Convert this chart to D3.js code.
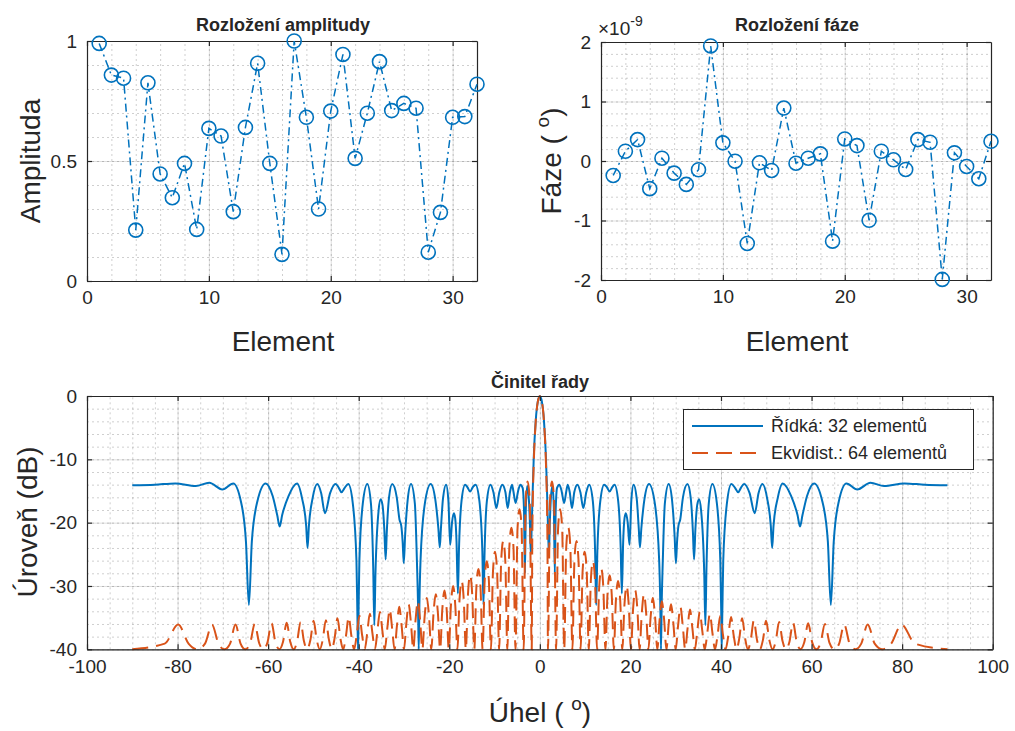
<!DOCTYPE html>
<html><head><meta charset="utf-8">
<script src="https://cdn.jsdelivr.net/npm/d3@7"></script>
<style>
body{margin:0;background:#fff}
text{font-family:"Liberation Sans",Arial,Helvetica,sans-serif;fill:#262626}
</style></head>
<body><svg id="c" width="1015" height="731"></svg>
<script>
// ---------------- DATA ----------------
const elementy = [1,2,3,4,5,6,7,8,9,10,11,12,13,14,15,16,17,18,19,20,21,22,23,24,25,26,27,28,29,30,31,32];
const amplituda = [0.99,0.858,0.845,0.212,0.826,0.446,0.347,0.49,0.215,0.636,0.604,0.289,0.64,0.907,0.49,0.111,
                   1.0,0.682,0.30,0.708,0.944,0.511,0.699,0.914,0.71,0.74,0.72,0.12,0.286,0.682,0.685,0.82];
// phase in units of 1e-9 degrees
const faze = [-0.243,0.164,0.36,-0.465,0.047,-0.204,-0.393,-0.147,1.933,0.305,-0.003,-1.386,-0.03,-0.159,0.89,-0.037,
              0.047,0.12,-1.347,0.371,0.259,-0.996,0.164,0.02,-0.142,0.36,0.315,-1.99,0.137,-0.092,-0.298,0.331];
const elemTicks = [0,10,20,30];
const ampTicks = [0,0.5,1];
const fazeTicks = [-2,-1,0,1,2];
const uhelTicks = [-100,-80,-60,-40,-20,0,20,40,60,80,100];
const urovenTicks = [-40,-30,-20,-10,0];

// Ridka: 32 elementu  [angle deg, level dB] (traced)
const ridka = [
[-90,-14.1],[-85,-14.0],[-80.5,-13.8],[-76.0,-14.2],[-73.0,-13.7],[-70.1,-14.75],[-67.7,-13.8],[-66.0,-16.7],[-64.9,-23],[-64.25,-33],[-63.6,-23],[-62.4,-16.7],
[-60.55,-13.8],[-59.0,-15.8],[-58.0,-18.8],[-57.45,-20.6],[-56.9,-18.8],[-55.5,-15.8],[-53.6,-13.8],[-52.5,-16.2],[-51.6,-20.5],[-51.3,-24],[-51.0,-20.5],[-50.2,-16.2],
[-49.15,-13.9],[-48.3,-15.3],[-47.45,-18.5],[-46.3,-15.3],[-45.1,-13.9],[-44.4,-14.5],[-43.8,-15.2],[-43.1,-14.5],[-42.3,-13.9],[-41.3,-17],[-40.5,-26],[-40.3,-34],
[-40.15,-40],[-40.05,-34],[-39.85,-26],[-39.1,-17],[-38.1,-13.9],[-37.3,-17],[-36.8,-27],[-36.55,-36.2],[-36.3,-28],[-35.6,-18],[-35.15,-16.3],[-34.75,-17.2],
[-34.35,-21],[-34.05,-25.8],[-33.8,-21.5],[-33.3,-16],[-32.6,-13.9],[-31.6,-16],[-31.0,-19.5],[-30.6,-20.5],[-30.3,-23],[-30.05,-26.4],[-29.75,-22],[-29.2,-16.5],
[-28.45,-13.9],[-27.6,-17],[-27.15,-26],[-26.9,-33],[-26.75,-40],[-26.6,-33],[-26.35,-26],[-25.4,-17],[-24.1,-13.9],[-23.1,-16.3],[-22.4,-21],[-22.1,-23.9],
[-21.85,-21],[-21.4,-16.3],[-20.7,-14.0],[-20.2,-16.5],[-19.8,-23.5],[-19.4,-20],[-19.0,-18.5],[-18.7,-19.3],[-18.4,-23],[-18.1,-31.2],[-17.85,-24],[-17.3,-16.6],
[-16.5,-14.0],[-16.0,-14.4],[-15.4,-15.1],[-14.8,-14.4],[-14.2,-14.0],[-13.35,-16.6],[-12.7,-24.5],[-12.45,-33],[-12.2,-24.5],[-11.7,-16.6],[-10.9,-14.0],[-10.25,-15.2],
[-9.6,-17.7],[-8.95,-15.2],[-8.3,-14.0],[-7.6,-15.2],[-7.1,-17.7],[-6.6,-15.2],[-6.15,-14.0],[-5.85,-15.0],[-5.35,-16.9],[-4.8,-15.0],[-4.3,-14.0],[-3.8,-14.5],
[-3.5,-18],[-3.3,-28],[-3.1,-18],[-2.8,-14.2],[-2.5,-15.5],[-2.2,-20],[-2.0,-25],[-1.85,-22],[-1.6,-15.5],[-1.35,-9.8],[-0.9,-3.8],[-0.45,-0.9],
[0,0],
[0.45,-0.9],[0.9,-3.8],[1.35,-9.8],[1.6,-15.5],[1.85,-22],[2.0,-25],[2.2,-20],[2.5,-15.5],[2.8,-14.2],[3.1,-18],[3.3,-28],[3.5,-18],[3.8,-14.5],
[4.3,-14.0],[4.8,-15.0],[5.35,-16.9],[5.85,-15.0],[6.15,-14.0],[6.6,-15.2],[7.1,-17.7],[7.6,-15.2],[8.3,-14.0],[8.95,-15.2],[9.6,-17.7],[10.25,-15.2],[10.9,-14.0],
[11.7,-16.6],[12.2,-24.5],[12.45,-33],[12.7,-24.5],[13.35,-16.6],[14.2,-14.0],[14.8,-14.4],[15.4,-15.1],[16.0,-14.4],[16.5,-14.0],
[17.3,-16.6],[17.85,-24],[18.1,-31.2],[18.4,-23],[18.7,-19.3],[19.0,-18.5],[19.4,-20],[19.8,-23.5],[20.2,-16.5],[20.7,-14.0],
[21.4,-16.3],[21.85,-21],[22.1,-23.9],[22.4,-21],[23.1,-16.3],[24.1,-13.9],
[25.4,-17],[26.35,-26],[26.6,-33],[26.75,-40],[26.9,-33],[27.15,-26],[27.6,-17],[28.45,-13.9],
[29.2,-16.5],[29.75,-22],[30.05,-26.4],[30.3,-23],[30.6,-20.5],[31.0,-19.5],[31.6,-16],[32.6,-13.9],
[33.3,-16],[33.8,-21.5],[34.05,-25.8],[34.35,-21],[34.75,-17.2],[35.15,-16.3],[35.6,-18],[36.3,-28],[36.55,-36.2],[36.8,-27],[37.3,-17],[38.1,-13.9],
[39.1,-17],[39.85,-26],[40.05,-34],[40.15,-40],[40.3,-34],[40.5,-26],[41.3,-17],[42.3,-13.9],
[43.1,-14.5],[43.8,-15.2],[44.4,-14.5],[45.1,-13.9],
[46.3,-15.3],[47.45,-18.5],[48.3,-15.3],[49.15,-13.9],
[50.2,-16.2],[51.0,-20.5],[51.3,-24],[51.6,-20.5],[52.5,-16.2],[53.6,-13.8],
[55.5,-15.8],[56.9,-18.8],[57.45,-20.6],[58.0,-18.8],[59.0,-15.8],[60.55,-13.8],
[62.4,-16.7],[63.6,-23],[64.25,-33],[64.9,-23],[66.0,-16.7],[67.7,-13.8],
[70.1,-14.75],[73.0,-13.7],[76.0,-14.2],[80.5,-13.8],[85,-14.0],[90,-14.1]
];

// Ekvidist.: 64 elementu  [angle deg, level dB] (traced, floor -40 dB)
const ekvidist = [
[-90,-40],[-82.84,-39.1],[-79.86,-36.1],[-77.58,-39.1],[-75.64,-40],[-73.94,-39.1],[-72.39,-36.1],[-70.98,-39.1],[-69.64,-40],
[-68.40,-39.1],[-67.21,-36.1],[-66.09,-39.1],[-65.03,-40],[-63.96,-39.0],[-62.96,-36.0],[-61.99,-39.0],[-61.04,-40],
[-60.14,-38.9],[-59.25,-35.9],[-58.39,-38.9],[-57.54,-40],[-56.71,-38.8],[-55.91,-35.8],[-55.12,-38.8],[-54.34,-40],
[-53.59,-38.7],[-52.83,-35.7],[-52.10,-38.7],[-51.38,-40],[-50.66,-38.5],[-49.96,-35.5],[-49.27,-38.5],[-48.59,-40],
[-47.92,-38.4],[-47.26,-35.4],[-46.60,-38.4],[-45.95,-40],[-45.31,-38.2],[-44.68,-35.1],[-44.06,-38.2],[-43.43,-40],
[-42.82,-37.9],[-42.21,-34.9],[-41.61,-37.9],[-41.01,-40],[-40.43,-37.7],[-39.84,-34.7],[-39.26,-37.7],[-38.68,-40],
[-38.11,-37.4],[-37.55,-34.4],[-36.98,-37.4],[-36.42,-40],[-35.87,-37.1],[-35.32,-34.1],[-34.77,-37.1],[-34.23,-40],
[-33.69,-36.7],[-33.15,-33.7],[-32.62,-36.7],[-32.09,-40],[-31.56,-36.3],[-31.04,-33.3],[-30.52,-36.3],[-30.00,-40],
[-29.48,-35.9],[-28.97,-32.9],[-28.46,-35.9],[-27.95,-40],[-27.45,-35.4],[-26.94,-32.4],[-26.44,-35.4],[-25.94,-40],
[-25.45,-34.9],[-24.95,-31.9],[-24.46,-34.9],[-23.97,-40],[-23.48,-34.3],[-22.99,-31.3],[-22.51,-34.3],[-22.02,-40],
[-21.54,-33.7],[-21.06,-30.7],[-20.58,-33.7],[-20.11,-40],[-19.63,-33.0],[-19.16,-30.0],[-18.68,-33.0],[-18.21,-40],
[-17.74,-32.2],[-17.27,-29.2],[-16.80,-32.2],[-16.34,-40],[-15.87,-31.3],[-15.40,-28.3],[-14.94,-31.3],[-14.48,-40],
[-14.02,-30.3],[-13.56,-27.3],[-13.10,-30.3],[-12.64,-40],[-12.18,-29.1],[-11.72,-26.1],[-11.26,-29.1],[-10.81,-40],
[-10.35,-27.7],[-9.90,-24.6],[-9.44,-27.7],[-8.99,-40],[-8.54,-26.0],[-8.08,-22.9],[-7.63,-26.0],[-7.18,-40],
[-6.73,-23.8],[-6.28,-20.8],[-5.83,-23.8],[-5.38,-40],[-4.93,-20.9],[-4.48,-17.9],[-4.03,-20.9],[-3.58,-40],
[-3.14,-16.5],[-2.69,-13.5],[-2.24,-16.5],[-1.79,-40],[-1.68,-23.6],[-1.57,-17.1],[-1.34,-10.5],[-0.9,-3.9],[-0.45,-0.9],
[0,0],
[0.45,-0.9],[0.9,-3.9],[1.34,-10.5],[1.57,-17.1],[1.68,-23.6],[1.79,-40],[2.24,-16.5],[2.69,-13.5],[3.14,-16.5],[3.58,-40],
[4.03,-20.9],[4.48,-17.9],[4.93,-20.9],[5.38,-40],[5.83,-23.8],[6.28,-20.8],[6.73,-23.8],[7.18,-40],
[7.63,-26.0],[8.08,-22.9],[8.54,-26.0],[8.99,-40],[9.44,-27.7],[9.90,-24.6],[10.35,-27.7],[10.81,-40],
[11.26,-29.1],[11.72,-26.1],[12.18,-29.1],[12.64,-40],[13.10,-30.3],[13.56,-27.3],[14.02,-30.3],[14.48,-40],
[14.94,-31.3],[15.40,-28.3],[15.87,-31.3],[16.34,-40],[16.80,-32.2],[17.27,-29.2],[17.74,-32.2],[18.21,-40],
[18.68,-33.0],[19.16,-30.0],[19.63,-33.0],[20.11,-40],[20.58,-33.7],[21.06,-30.7],[21.54,-33.7],[22.02,-40],
[22.51,-34.3],[22.99,-31.3],[23.48,-34.3],[23.97,-40],[24.46,-34.9],[24.95,-31.9],[25.45,-34.9],[25.94,-40],
[26.44,-35.4],[26.94,-32.4],[27.45,-35.4],[27.95,-40],[28.46,-35.9],[28.97,-32.9],[29.48,-35.9],[30.00,-40],
[30.52,-36.3],[31.04,-33.3],[31.56,-36.3],[32.09,-40],[32.62,-36.7],[33.15,-33.7],[33.69,-36.7],[34.23,-40],
[34.77,-37.1],[35.32,-34.1],[35.87,-37.1],[36.42,-40],[36.98,-37.4],[37.55,-34.4],[38.11,-37.4],[38.68,-40],
[39.26,-37.7],[39.84,-34.7],[40.43,-37.7],[41.01,-40],[41.61,-37.9],[42.21,-34.9],[42.82,-37.9],[43.43,-40],
[44.06,-38.2],[44.68,-35.1],[45.31,-38.2],[45.95,-40],[46.60,-38.4],[47.26,-35.4],[47.92,-38.4],[48.59,-40],
[49.27,-38.5],[49.96,-35.5],[50.66,-38.5],[51.38,-40],[52.10,-38.7],[52.83,-35.7],[53.59,-38.7],[54.34,-40],
[55.12,-38.8],[55.91,-35.8],[56.71,-38.8],[57.54,-40],[58.39,-38.9],[59.25,-35.9],[60.14,-38.9],[61.04,-40],
[61.99,-39.0],[62.96,-36.0],[63.96,-39.0],[65.03,-40],[66.09,-39.1],[67.21,-36.1],[68.40,-39.1],[69.64,-40],
[70.98,-39.1],[72.39,-36.1],[73.94,-39.1],[75.64,-40],[77.58,-39.1],[79.86,-36.1],[82.84,-39.1],[90,-40]
];
const legendLabels = ["Řídká: 32 elementů","Ekvidist.: 64 elementů"];

// ---------------- DRAWING ----------------
const svg = d3.select('#c');
const BLUE = '#0072BD', ORANGE = '#D95319', AXC = '#262626';
const TICK_FS = 19, LABEL_FS = 28, TITLE_FS = 18;
const DASH = '16,8';

function frame(g, x, y, xMajor, xMinor, yMajor, yMinor){
  const [xl, xr] = x.range(); const [yb, yt] = y.range();
  const h = yb - yt, w = xr - xl;
  g.append('g').attr('transform',`translate(0,${yb})`)
    .call(d3.axisBottom(x).tickValues(xMinor).tickSize(-h).tickFormat(''))
    .call(a=>{a.select('.domain').remove(); a.selectAll('line').attr('stroke',AXC).attr('stroke-opacity',0.22).attr('stroke-dasharray','2,3');});
  g.append('g').attr('transform',`translate(${xl},0)`)
    .call(d3.axisLeft(y).tickValues(yMinor).tickSize(-w).tickFormat(''))
    .call(a=>{a.select('.domain').remove(); a.selectAll('line').attr('stroke',AXC).attr('stroke-opacity',0.22).attr('stroke-dasharray','2,3');});
  g.append('g').attr('transform',`translate(0,${yb})`)
    .call(d3.axisBottom(x).tickValues(xMajor).tickSize(-h).tickFormat(''))
    .call(a=>{a.select('.domain').remove(); a.selectAll('line').attr('stroke',AXC).attr('stroke-opacity',0.15);});
  g.append('g').attr('transform',`translate(${xl},0)`)
    .call(d3.axisLeft(y).tickValues(yMajor).tickSize(-w).tickFormat(''))
    .call(a=>{a.select('.domain').remove(); a.selectAll('line').attr('stroke',AXC).attr('stroke-opacity',0.15);});
}
function axesBox(g, x, y, xMajor, yMajor, xfmt, yfmt){
  const [xl, xr] = x.range(); const [yb, yt] = y.range();
  const style = a=>{a.select('.domain').attr('stroke',AXC).attr('stroke-width',1.2);
    a.selectAll('line').attr('stroke',AXC).attr('stroke-width',1.2);
    a.selectAll('text').attr('fill',AXC).style('font-size',TICK_FS+'px').style('font-family','"Liberation Sans",Arial,sans-serif');};
  g.append('g').attr('transform',`translate(0,${yb})`)
    .call(d3.axisBottom(x).tickValues(xMajor).tickSizeInner(-5).tickSizeOuter(0).tickPadding(10).tickFormat(xfmt)).call(style);
  g.append('g').attr('transform',`translate(0,${yt})`)
    .call(d3.axisTop(x).tickValues(xMajor).tickSizeInner(-5).tickSizeOuter(0).tickFormat('')).call(style);
  g.append('g').attr('transform',`translate(${xl},0)`)
    .call(d3.axisLeft(y).tickValues(yMajor).tickSizeInner(-5).tickSizeOuter(0).tickPadding(10).tickFormat(yfmt)).call(style);
  g.append('g').attr('transform',`translate(${xr},0)`)
    .call(d3.axisRight(y).tickValues(yMajor).tickSizeInner(-5).tickSizeOuter(0).tickFormat('')).call(style);
}
function rangeStep(a,b,s){const r=[];for(let v=a;v<=b+1e-9;v+=s)r.push(+v.toFixed(6));return r;}
const fmt = d=>String(d);

// ---- top-left: amplitude ----
{
  const x = d3.scaleLinear().domain([0,32]).range([87,477]);
  const y = d3.scaleLinear().domain([0,1]).range([281,41]);
  const g = svg.append('g');
  frame(g,x,y,elemTicks,rangeStep(0,32,2),ampTicks,rangeStep(0,1,0.1));
  axesBox(g,x,y,elemTicks,ampTicks,fmt,fmt);
  const line = d3.line().x((d,i)=>x(elementy[i])).y(d=>y(d));
  g.append('path').attr('d',line(amplituda)).attr('fill','none').attr('stroke',BLUE).attr('stroke-width',1.5).attr('stroke-dasharray','8,4,2,4');
  g.selectAll('circle').data(amplituda).join('circle').attr('cx',(d,i)=>x(elementy[i])).attr('cy',d=>y(d)).attr('r',7)
    .attr('fill','none').attr('stroke',BLUE).attr('stroke-width',1.6);
  g.append('text').attr('x',283).attr('y',31).attr('text-anchor','middle').style('font-size',TITLE_FS+'px').style('font-weight','bold').text('Rozložení amplitudy');
  g.append('text').attr('x',283).attr('y',351).attr('text-anchor','middle').style('font-size',LABEL_FS+'px').text('Element');
  g.append('text').attr('transform','translate(40,161) rotate(-90)').attr('text-anchor','middle').style('font-size',LABEL_FS+'px').text('Amplituda');
}
// ---- top-right: phase ----
{
  const x = d3.scaleLinear().domain([0,32]).range([601,991]);
  const y = d3.scaleLinear().domain([-2,2]).range([280,42]);
  const g = svg.append('g');
  frame(g,x,y,elemTicks,rangeStep(0,32,2),fazeTicks,rangeStep(-2,2,0.2));
  axesBox(g,x,y,elemTicks,fazeTicks,fmt,fmt);
  const line = d3.line().x((d,i)=>x(elementy[i])).y(d=>y(d));
  g.append('path').attr('d',line(faze)).attr('fill','none').attr('stroke',BLUE).attr('stroke-width',1.5).attr('stroke-dasharray','8,4,2,4');
  g.selectAll('circle').data(faze).join('circle').attr('cx',(d,i)=>x(elementy[i])).attr('cy',d=>y(d)).attr('r',7)
    .attr('fill','none').attr('stroke',BLUE).attr('stroke-width',1.6);
  g.append('text').attr('x',797).attr('y',31).attr('text-anchor','middle').style('font-size',TITLE_FS+'px').style('font-weight','bold').text('Rozložení fáze');
  g.append('text').attr('x',797).attr('y',351).attr('text-anchor','middle').style('font-size',LABEL_FS+'px').text('Element');
  const t = g.append('text').attr('transform','translate(561,161) rotate(-90)').attr('text-anchor','middle').style('font-size',LABEL_FS+'px');
  t.append('tspan').text('Fáze ( ');
  t.append('tspan').attr('dy',-12).style('font-size','19px').text('o');
  t.append('tspan').attr('dy',12).text(')');
  const e = g.append('text').attr('x',598).attr('y',35).style('font-size','19px');
  e.append('tspan').text('×10');
  e.append('tspan').attr('dy',-9).style('font-size','14px').text('-9');
}
// ---- bottom: array factor ----
{
  const x = d3.scaleLinear().domain([-100,100]).range([87,992.7]);
  const y = d3.scaleLinear().domain([-40,0]).range([649.3,396]);
  const g = svg.append('g');
  frame(g,x,y,uhelTicks,rangeStep(-100,100,5),urovenTicks,rangeStep(-40,0,2));
  svg.append('clipPath').attr('id','clipB').append('rect').attr('x',87).attr('y',394).attr('width',905.7).attr('height',257);
  const line = d3.line().x(d=>x(d[0])).y(d=>y(d[1])).curve(d3.curveMonotoneX);
  const pg = g.append('g').attr('clip-path','url(#clipB)');
  pg.append('path').attr('d',line(ridka)).attr('fill','none').attr('stroke',BLUE).attr('stroke-width',2);
  pg.append('path').attr('d',line(ekvidist)).attr('fill','none').attr('stroke',ORANGE).attr('stroke-width',2).attr('stroke-dasharray',DASH);
  axesBox(g,x,y,uhelTicks,urovenTicks,fmt,fmt);
  g.append('text').attr('x',540).attr('y',388).attr('text-anchor','middle').style('font-size',TITLE_FS+'px').style('font-weight','bold').text('Činitel řady');
  const t = g.append('text').attr('x',540).attr('y',722).attr('text-anchor','middle').style('font-size',LABEL_FS+'px');
  t.append('tspan').text('Úhel ( ');
  t.append('tspan').attr('dy',-12).style('font-size','19px').text('o');
  t.append('tspan').attr('dy',12).text(')');
  g.append('text').attr('transform','translate(37,522) rotate(-90)').attr('text-anchor','middle').style('font-size',LABEL_FS+'px').text('Úroveň (dB)');
  // legend
  const lg = g.append('g');
  lg.append('rect').attr('x',683.5).attr('y',409.5).attr('width',290).attr('height',60).attr('fill','#fff').attr('stroke',AXC).attr('stroke-width',1);
  const styles = [{c:BLUE,d:null},{c:ORANGE,d:DASH}];
  legendLabels.forEach((s,i)=>{
    const yy = 426 + i*27;
    lg.append('line').attr('x1',692).attr('x2',763).attr('y1',yy).attr('y2',yy).attr('stroke',styles[i].c).attr('stroke-width',2).attr('stroke-dasharray',styles[i].d);
    lg.append('text').attr('x',771).attr('y',yy+6).style('font-size','18px').text(s);
  });
}
</script></body></html>
